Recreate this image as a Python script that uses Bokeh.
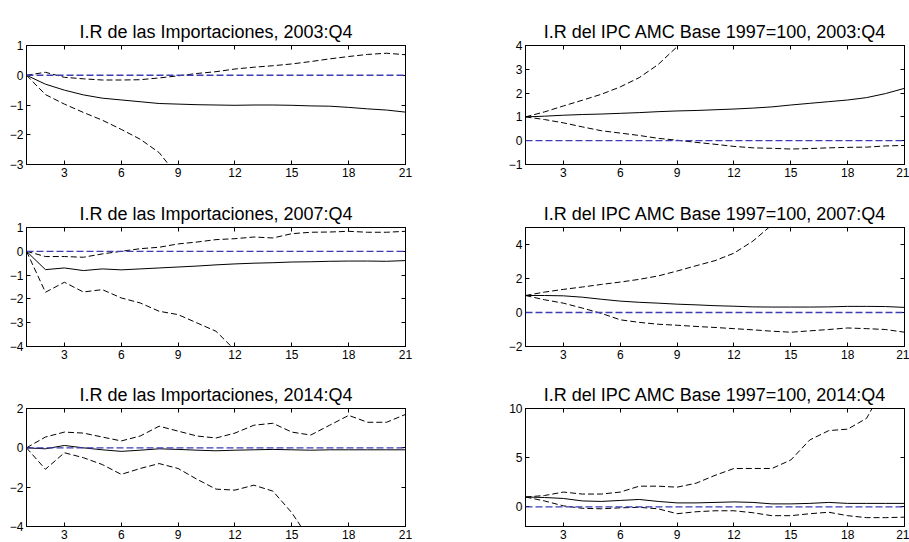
from bokeh.plotting import figure
from bokeh.layouts import gridplot
from bokeh.models import LinearAxis, FixedTicker, Range1d, Span
from bokeh.embed import file_html
from bokeh.resources import INLINE

periods = list(range(1, 22))
x_ticks = [3, 6, 9, 12, 15, 18, 21]

# Importaciones, 2003:Q4
imp03_irf = [0, -0.30, -0.50, -0.66, -0.77, -0.83, -0.89, -0.95, -0.97, -0.99, -1.00,
             -1.01, -1.00, -1.00, -1.01, -1.03, -1.04, -1.08, -1.13, -1.17, -1.24]
imp03_up = [0, 0.10, -0.07, -0.12, -0.16, -0.16, -0.15, -0.09, -0.02, 0.06, 0.12,
            0.21, 0.27, 0.32, 0.38, 0.46, 0.55, 0.63, 0.70, 0.74, 0.69]
imp03_lo = [0, -0.65, -0.97, -1.25, -1.51, -1.82, -2.15, -2.60, -3.40, -3.90, -4.40,
            -4.90, -5.40, -5.90, -6.40, -6.90, -7.40, -7.90, -8.40, -8.90, -9.40]

# IPC AMC, 2003:Q4
ipc03_irf = [1, 1.03, 1.07, 1.10, 1.12, 1.15, 1.18, 1.22, 1.25, 1.27, 1.30,
             1.33, 1.37, 1.42, 1.50, 1.57, 1.64, 1.71, 1.81, 1.98, 2.20]
ipc03_up = [1, 1.21, 1.46, 1.70, 1.95, 2.26, 2.65, 3.20, 3.95, 4.80, 5.70,
            6.60, 7.50, 8.40, 9.30, 10.2, 11.0, 11.8, 12.6, 13.4, 14.2]
ipc03_lo = [1, 0.89, 0.75, 0.58, 0.42, 0.32, 0.22, 0.10, 0.02, -0.07, -0.15,
            -0.24, -0.30, -0.32, -0.35, -0.33, -0.30, -0.28, -0.27, -0.22, -0.20]

# Importaciones, 2007:Q4
imp07_irf = [0, -0.77, -0.70, -0.81, -0.74, -0.78, -0.74, -0.70, -0.66, -0.62, -0.57,
             -0.53, -0.50, -0.48, -0.45, -0.44, -0.42, -0.41, -0.41, -0.42, -0.39]
imp07_up = [0, -0.22, -0.22, -0.25, -0.11, 0.00, 0.11, 0.17, 0.31, 0.39, 0.49,
            0.53, 0.60, 0.56, 0.74, 0.80, 0.81, 0.84, 0.80, 0.80, 0.84]
imp07_lo = [0, -1.72, -1.30, -1.71, -1.61, -1.96, -2.17, -2.52, -2.66, -3.01, -3.36,
            -4.15, -4.60, -5.10, -5.60, -6.00, -6.40, -6.80, -7.20, -7.60, -8.00]

# IPC AMC, 2007:Q4
ipc07_irf = [1, 1.00, 0.98, 0.90, 0.78, 0.67, 0.60, 0.55, 0.49, 0.45, 0.40,
             0.37, 0.33, 0.32, 0.32, 0.32, 0.33, 0.36, 0.36, 0.35, 0.30]
ipc07_up = [1, 1.20, 1.36, 1.50, 1.65, 1.79, 1.95, 2.15, 2.44, 2.75, 3.05,
            3.49, 4.20, 5.15, 5.90, 6.80, 7.70, 8.60, 9.50, 10.4, 11.3]
ipc07_lo = [1, 0.75, 0.55, 0.26, -0.05, -0.43, -0.58, -0.69, -0.75, -0.82, -0.88,
            -0.95, -1.02, -1.10, -1.16, -1.08, -1.00, -0.91, -0.95, -1.00, -1.16]

# Importaciones, 2014:Q4
imp14_irf = [0, -0.05, 0.12, 0.00, -0.10, -0.18, -0.12, -0.05, -0.08, -0.12, -0.15,
             -0.12, -0.10, -0.08, -0.10, -0.12, -0.10, -0.10, -0.10, -0.10, -0.10]
imp14_up = [0, 0.55, 0.80, 0.75, 0.55, 0.35, 0.60, 1.10, 0.85, 0.60, 0.50,
            0.75, 1.15, 1.25, 0.80, 0.65, 1.15, 1.65, 1.30, 1.30, 1.70]
imp14_lo = [0, -1.09, -0.25, -0.50, -0.85, -1.35, -1.05, -0.80, -1.05, -1.60, -2.10,
            -2.15, -1.90, -2.20, -3.30, -4.75, -5.40, -6.00, -6.60, -7.20, -7.80]

# IPC AMC, 2014:Q4
ipc14_irf = [1, 0.95, 0.85, 0.60, 0.55, 0.65, 0.75, 0.55, 0.40, 0.40, 0.45,
             0.50, 0.45, 0.30, 0.30, 0.35, 0.45, 0.35, 0.35, 0.35, 0.35]
ipc14_up = [1, 1.15, 1.50, 1.30, 1.30, 1.50, 2.10, 2.10, 2.00, 2.40, 3.20,
            3.90, 3.90, 3.90, 4.76, 6.80, 7.75, 7.90, 9.00, 12.5, 14.0]
ipc14_lo = [1, 0.60, 0.10, -0.15, -0.20, -0.10, -0.05, -0.20, -0.70, -0.50, -0.40,
            -0.40, -0.60, -0.90, -0.90, -0.70, -0.55, -0.90, -1.10, -1.10, -1.05]

FONT = "Liberation Sans"
BLUE = "#3c3cb4"


def style_axis(ax, labels=True):
    ax.axis_line_color = "black"
    ax.major_tick_in = 4
    ax.major_tick_out = 0
    ax.minor_tick_line_color = None
    ax.major_tick_line_color = "black"
    if labels:
        ax.major_label_text_font = FONT
        ax.major_label_text_font_size = "12px"
        ax.major_label_text_color = "black"
        ax.major_label_standoff = 3
    else:
        ax.major_label_text_font_size = "1px"
        ax.major_label_text_color = None
        ax.major_label_standoff = 0


def panel(title, irf, up, lo, y0, y1, y_ticks, left_col, top_b, fh, bot_b):
    p = figure(frame_width=379, frame_height=fh,
               x_range=Range1d(1, 21), y_range=Range1d(y0, y1),
               output_backend="svg", toolbar_location=None,
               min_border_left=26 if left_col else 70,
               min_border_right=50 if left_col else 5,
               min_border_top=top_b, min_border_bottom=bot_b)
    p.title.text = title
    p.title.align = "center"
    p.title.text_font = FONT
    p.title.text_font_size = "18px"
    p.title.text_font_style = "normal"
    p.title.text_color = "black"
    p.title.standoff = 7
    p.grid.visible = False
    p.outline_line_color = "black"
    p.outline_line_alpha = 1.0
    p.xaxis.ticker = FixedTicker(ticks=x_ticks)
    p.yaxis.ticker = FixedTicker(ticks=y_ticks)
    style_axis(p.xaxis[0])
    style_axis(p.yaxis[0])
    ra = LinearAxis(ticker=FixedTicker(ticks=y_ticks))
    style_axis(ra, labels=False)
    p.add_layout(ra, "right")
    ta = LinearAxis(ticker=FixedTicker(ticks=x_ticks))
    style_axis(ta, labels=False)
    p.add_layout(ta, "above")

    p.add_layout(Span(location=0, dimension="width", line_color=BLUE,
                      line_width=1.3, line_dash="7 3"))
    p.line(periods, up, line_color="black", line_width=1, line_dash="6 3")
    p.line(periods, lo, line_color="black", line_width=1, line_dash="6 3")
    p.line(periods, irf, line_color="black", line_width=1)
    return p


p1 = panel("I.R de las Importaciones, 2003:Q4", imp03_irf, imp03_up, imp03_lo,
           -3, 1, [-3, -2, -1, 0, 1], True, 45, 119, 30)
p2 = panel("I.R del IPC AMC Base 1997=100, 2003:Q4", ipc03_irf, ipc03_up, ipc03_lo,
           -1, 4, [-1, 0, 1, 2, 3, 4], False, 45, 119, 30)
p3 = panel("I.R de las Importaciones, 2007:Q4", imp07_irf, imp07_up, imp07_lo,
           -4, 1, [-4, -3, -2, -1, 0, 1], True, 33, 119, 29)
p4 = panel("I.R del IPC AMC Base 1997=100, 2007:Q4", ipc07_irf, ipc07_up, ipc07_lo,
           -2, 5, [-2, 0, 2, 4], False, 33, 119, 29)
p5 = panel("I.R de las Importaciones, 2014:Q4", imp14_irf, imp14_up, imp14_lo,
           -4, 2, [-4, -2, 0, 2], True, 33, 118, 16)
p6 = panel("I.R del IPC AMC Base 1997=100, 2014:Q4", ipc14_irf, ipc14_up, ipc14_lo,
           -2, 10, [0, 5, 10], False, 33, 118, 16)

grid = gridplot([[p1, p2], [p3, p4], [p5, p6]], toolbar_location=None)

open("out.html", "w").write(file_html(grid, INLINE))
